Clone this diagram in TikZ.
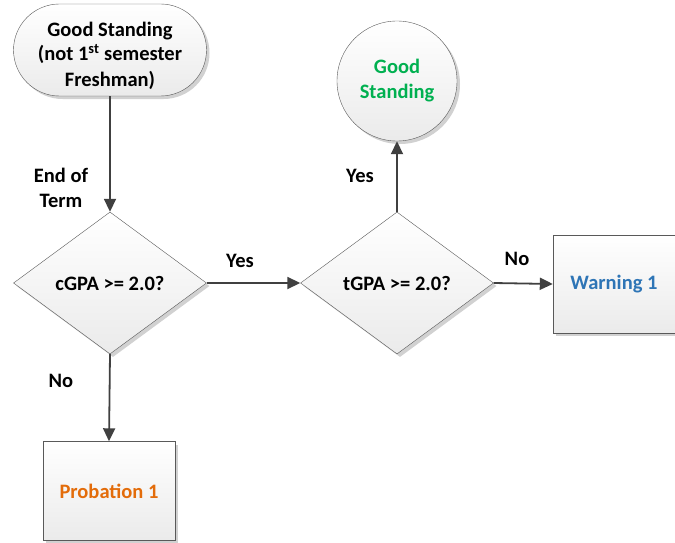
\documentclass[tikz,border=0pt]{standalone}
\usepackage{fontspec}
\setmainfont{Carlito}
\usetikzlibrary{shapes.geometric,shapes.misc,arrows.meta,shadows}

\definecolor{goodgreen}{RGB}{0,176,80}
\definecolor{warnblue}{RGB}{46,117,182}
\definecolor{probOrange}{RGB}{227,108,10}
\definecolor{lineGray}{RGB}{64,64,64}

\begin{document}
\begin{tikzpicture}[x=1pt,y=-1pt,
    font=\fontsize{20.5}{25}\selectfont\bfseries,
    box/.style={draw=black!65,thin,top color=white,bottom color=black!8,
      drop shadow={shadow xshift=3pt,shadow yshift=-3pt,fill=black!18,opacity=1}},
    term/.style={box,rounded rectangle,minimum width=193pt,minimum height=92pt,align=center,inner sep=0pt},
    decision/.style={box,diamond,minimum width=193pt,minimum height=142pt,inner sep=0pt},
    proc/.style={box,rectangle,minimum width=122pt,minimum height=98pt,inner sep=0pt},
    ending/.style={box,circle,minimum size=120pt,inner sep=0pt,align=center},
    flow/.style={draw=lineGray,line width=1.8pt,-{Triangle[length=13pt,width=12pt]}}
  ]
  \useasboundingbox (0,0) rectangle (675,543);

  % shapes
  \node[term] (start) at (110,50) {\raisebox{-6pt}[\height][\depth]{\begin{tabular}{@{}c@{}}Good Standing\\(not 1\textsuperscript{st} semester\\Freshman)\end{tabular}}};
  \node[decision] (cgpa) at (110,283) {cGPA >= 2.0?};
  \node[decision] (tgpa) at (397,283) {tGPA >= 2.0?};
  \node[ending,text=goodgreen] (good) at (397,81) {Good\\Standing};
  \node[proc,minimum width=132pt,minimum height=99pt,text=probOrange] (prob) at (109,491) {Probation 1};
  \node[proc,text=warnblue] (warn) at (614,284) {Warning 1};

  % connectors
  \draw[flow] (start.south) -- (cgpa.north);
  \draw[flow] (cgpa.south) -- (prob.north);
  \draw[flow] (cgpa.east) -- (tgpa.west);
  \draw[flow] (tgpa.north) -- (good.south);
  \draw[flow] (tgpa.east) -- (warn.west);

  % labels
  \node[align=center] (endterm) at (61,188) {End of\\Term};
  \node (lblno1) at (61,381) {No};
  \node (lblyes1) at (240,261) {Yes};
  \node (lblyes2) at (360,176) {Yes};
  \node (lblno2) at (517,259) {No};
\end{tikzpicture}
\end{document}
